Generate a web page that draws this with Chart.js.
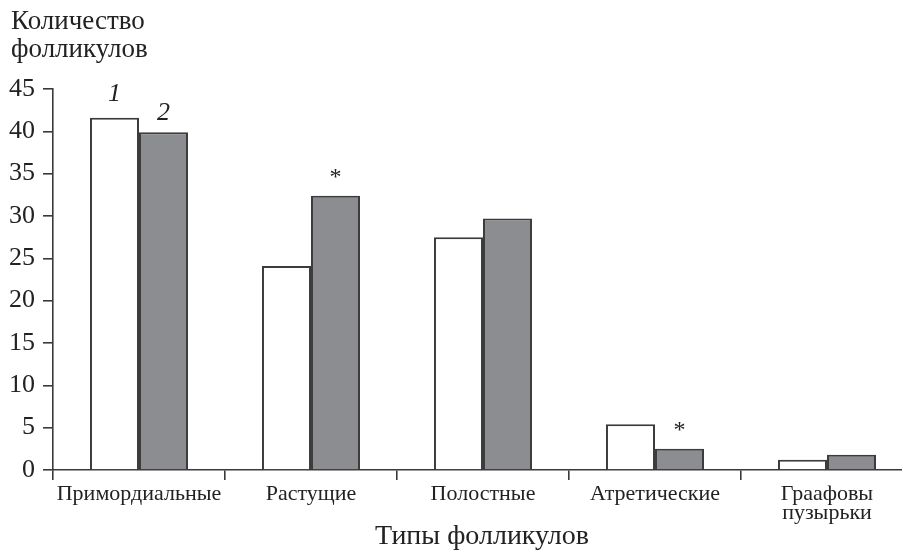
<!DOCTYPE html>
<html lang="ru">
<head>
<meta charset="utf-8">
<title>Типы фолликулов</title>
<script src="https://cdn.jsdelivr.net/npm/chart.js@4.4.1/dist/chart.umd.min.js"></script>
<style>
    body { margin: 0; background: #fff; overflow: hidden; }
    .wrap { position: relative; width: 902px; height: 551px; overflow: hidden; }
    canvas { position: absolute; left: 0; top: 0; }
    .ytitle {
        position: absolute; left: 11px; top: 6px;
        font: 27px "Liberation Serif", "DejaVu Serif", serif; line-height: 28px; color: #222;
    }
    .xtitle {
        position: absolute; left: 0; width: 964px; top: 519px; text-align: center;
        font: 28px "Liberation Serif", "DejaVu Serif", serif; line-height: 32px; color: #222;
    }
</style>
</head>
<body>
<div class="wrap">
    <canvas id="chart" width="914" height="551"></canvas>
    <div class="ytitle">Количество<br>фолликулов</div>
    <div class="xtitle">Типы фолликулов</div>
</div>
<script>
// Данные
const categories = ['Примордиальные', 'Растущие', 'Полостные', 'Атретические', ['Граафовы', 'пузырьки']];
const group1 = [41.6, 24.1, 27.5, 5.4, 1.2];
const group2 = [39.9, 32.4, 29.7, 2.5, 1.8];
const yTicks = [0, 5, 10, 15, 20, 25, 30, 35, 40, 45];
// Подписи над столбиками: [набор, категория, текст]
const marks = [[0, 0, '1'], [1, 0, '2'], [1, 1, '*'], [1, 3, '*']];

const serif = '"Liberation Serif", "DejaVu Serif", serif';
const ink = '#3a3a3a';

// Рисует номера групп и звёздочки над столбиками
const marksPlugin = {
    id: 'marks',
    afterDatasetsDraw(chart) {
        const ctx = chart.ctx;
        const lift = { '1': 24, '2': 19, '*': 18 };
        ctx.save();
        ctx.fillStyle = '#222';
        ctx.textAlign = 'center';
        ctx.textBaseline = 'middle';
        marks.forEach(([ds, idx, txt]) => {
            const bar = chart.getDatasetMeta(ds).data[idx];
            ctx.font = txt === '*' ? '24px ' + serif : 'italic 26px ' + serif;
            ctx.fillText(txt, bar.x, bar.y - lift[txt]);
        });
        ctx.restore();
    }
};

new Chart(document.getElementById('chart'), {
    type: 'bar',
    data: {
        labels: categories,
        datasets: [{
            label: '1',
            data: group1,
            backgroundColor: '#ffffff',
            borderColor: '#3c3c3c',
            borderWidth: 2,
            borderSkipped: 'start'
        }, {
            label: '2',
            data: group2,
            backgroundColor: '#8c8d91',
            borderColor: '#3c3c3c',
            borderWidth: 2,
            borderSkipped: 'start'
        }]
    },
    options: {
        responsive: false,
        animation: false,
        layout: { padding: { top: 89, left: 0, right: 1, bottom: 0 } },
        datasets: { bar: { categoryPercentage: 0.57, barPercentage: 1.0 } },
        plugins: { legend: { display: false }, tooltip: { enabled: false } },
        scales: {
            x: {
                offset: true,
                grid: { offset: true, drawOnChartArea: false, drawTicks: true, tickLength: 10, color: ink, lineWidth: 1.6 },
                border: { display: true, color: ink, width: 1.6 },
                ticks: { color: '#222', font: { family: serif, size: 22, lineHeight: 0.9 }, padding: 4, maxRotation: 0, autoSkip: false },
                afterFit(scale) { scale.height = 81; }
            },
            y: {
                min: 0,
                max: 45,
                afterBuildTicks(scale) { scale.ticks = yTicks.map(v => ({ value: v })); },
                grid: { drawOnChartArea: false, drawTicks: true, tickLength: 10, color: ink, lineWidth: 1.6 },
                border: { display: true, color: ink, width: 1.6 },
                ticks: { color: '#222', font: { family: serif, size: 26 }, padding: 8 },
                afterFit(scale) { scale.width = 53; }
            }
        }
    },
    plugins: [marksPlugin]
});
</script>
</body>
</html>
